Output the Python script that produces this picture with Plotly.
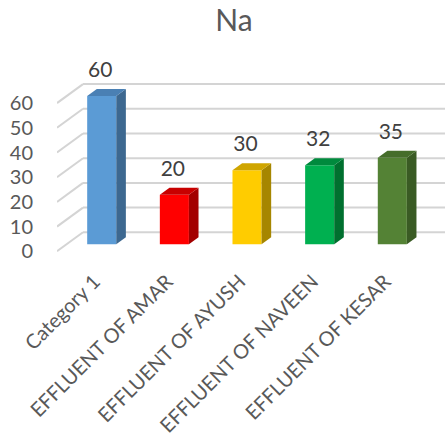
import plotly.graph_objects as go

# ---- data ----
categories = ["Category 1", "EFFLUENT OF AMAR", "EFFLUENT OF AYUSH",
              "EFFLUENT OF NAVEEN", "EFFLUENT OF KESAR"]
values = [60, 20, 30, 32, 35]
y_ticks = [0, 10, 20, 30, 40, 50, 60]

front_colors = ["#5B9BD5", "#FF0000", "#FFCC00", "#00B050", "#548235"]
side_colors = ["#3D6890", "#A30000", "#A68600", "#00702F", "#3A5B24"]
top_colors = ["#4A80B4", "#C80000", "#CFA500", "#008A3D", "#456D2B"]

# ---- pixel geometry of the oblique projection ----
W, H = 445, 440
PX_PER_CAT = 72.65      # horizontal pixels per category step
PX_PER_UNIT = 2.47      # vertical pixels per value unit
X0_PX = 92.1            # pixel x of category 0 on the front plane
Y0_PX = 251.3           # pixel y of value 0 on the front plane
DEPTH_PX = (26.0, 19.0)  # pixel shift from front to back wall

PLOT_L, PLOT_R, PLOT_T, PLOT_B = 57, 445, 45, 256

DXU = DEPTH_PX[0] / PX_PER_CAT
DYU = DEPTH_PX[1] / PX_PER_UNIT
T_FRONT, T_BACK = 0.37, 0.74    # depth span of the columns
HALF_W = 0.2                    # half column width in category units

x_range = [(PLOT_L - X0_PX) / PX_PER_CAT, (PLOT_R - X0_PX) / PX_PER_CAT]
y_range = [(Y0_PX - PLOT_B) / PX_PER_UNIT, (Y0_PX - PLOT_T) / PX_PER_UNIT]


def proj(x, v, t):
    """Map (category position, value, depth) onto the 2D axes."""
    return x + t * DXU, v + t * DYU


fig = go.Figure()

# back wall / side wall gridlines
shapes = []
grid_style = dict(color="#D4D4D4", width=2)
for g in y_ticks:
    xa, ya = proj(x_range[0], g, 0)
    xb, yb = proj(x_range[0], g, 1)
    shapes.append(dict(type="line", xref="x", yref="y", x0=xa, y0=ya, x1=xb, y1=yb,
                       line=grid_style, layer="below"))
    shapes.append(dict(type="line", xref="x", yref="y", x0=xb, y0=yb, x1=x_range[1] + 1, y1=yb,
                       line=grid_style, layer="below"))


def face(points, color):
    xs, ys = zip(*[proj(*p) for p in points])
    xs = list(xs) + [xs[0]]
    ys = list(ys) + [ys[0]]
    return go.Scatter(x=xs, y=ys, mode="lines", fill="toself", fillcolor=color,
                      line=dict(width=0, color=color), hoverinfo="skip", showlegend=False)


for i, v in enumerate(values):
    l, r = i - HALF_W, i + HALF_W
    fig.add_trace(face([(l, 0, T_FRONT), (r, 0, T_FRONT), (r, v, T_FRONT), (l, v, T_FRONT)],
                       front_colors[i]))
    fig.add_trace(face([(r, 0, T_FRONT), (r, 0, T_BACK), (r, v, T_BACK), (r, v, T_FRONT)],
                       side_colors[i]))
    fig.add_trace(face([(l, v, T_FRONT), (r, v, T_FRONT), (r, v, T_BACK), (l, v, T_BACK)],
                       top_colors[i]))

# value labels above each column
lab_x, lab_y = [], []
for i, v in enumerate(values):
    lab_x.append(proj(i, v, T_FRONT)[0] - 1.5 / PX_PER_CAT)
    lab_y.append(proj(i, v, T_BACK)[1] + 17 / PX_PER_UNIT)
fig.add_trace(go.Scatter(x=lab_x, y=lab_y, mode="text", text=[str(v) for v in values],
                         textposition="middle center",
                         textfont=dict(family="Lato", size=21, color="#404040"),
                         hoverinfo="skip", showlegend=False))

tick_pos = [proj(i, 0, T_FRONT)[0] - 0.1 for i in range(len(categories))]

fig.update_layout(
    width=W, height=H,
    margin=dict(l=PLOT_L, r=W - PLOT_R, t=PLOT_T, b=H - PLOT_B, autoexpand=False),
    paper_bgcolor="white", plot_bgcolor="white",
    shapes=shapes,
    title=dict(text="Na", x=234 / W, xanchor="center", xref="container",
               y=1 - 20 / H, yanchor="middle", yref="container",
               font=dict(family="Lato", size=30, color="#595959")),
    xaxis=dict(range=x_range, tickmode="array", tickvals=tick_pos, ticktext=categories,
               tickangle=-45, showgrid=False, zeroline=False, showline=False,
               ticks="outside", ticklen=5, tickcolor="rgba(0,0,0,0)",
               tickfont=dict(family="Lato", size=20, color="#595959"),
               automargin=False, fixedrange=True),
    yaxis=dict(range=y_range, tickmode="array", tickvals=y_ticks,
               showgrid=False, zeroline=False, showline=False,
               ticks="outside", ticklen=19, tickcolor="rgba(0,0,0,0)",
               tickfont=dict(family="Lato", size=20, color="#595959"), automargin=False,
               fixedrange=True),
    showlegend=False,
)

fig.write_html("out.html")
